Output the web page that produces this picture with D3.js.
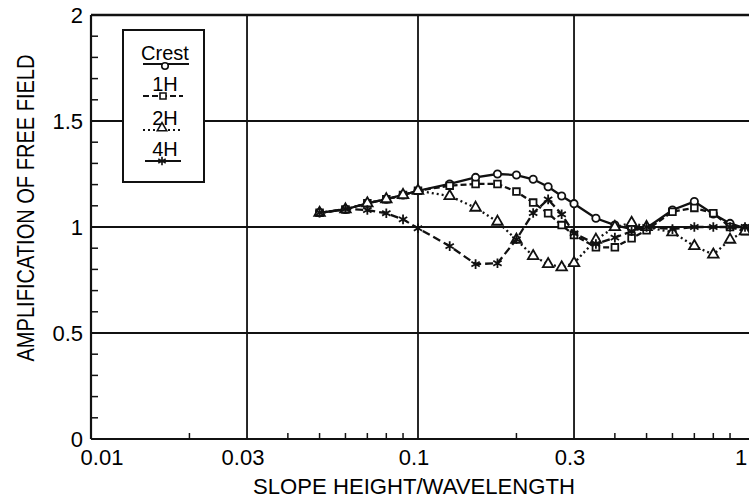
<!DOCTYPE html>
<html>
<head>
<meta charset="utf-8">
<script src="https://cdn.jsdelivr.net/npm/d3@7"></script>
<style>
  html, body { margin: 0; padding: 0; background: #fff; }
  svg { display: block; }
  text { font-family: "Liberation Sans", Arial, Helvetica, sans-serif; fill: #000; }
</style>
</head>
<body>
<svg id="chart" width="749" height="499"></svg>
<script>
// ---- data ----
const xValues = [0.05, 0.06, 0.07, 0.08, 0.09, 0.1, 0.125, 0.15, 0.175, 0.2, 0.225, 0.25, 0.275, 0.3, 0.35, 0.4, 0.45, 0.5, 0.6, 0.7, 0.8, 0.9, 1.0];
const crest = [1.067, 1.083, 1.112, 1.131, 1.151, 1.171, 1.203, 1.234, 1.25, 1.245, 1.225, 1.19, 1.146, 1.11, 1.041, 1.009, 0.99, 0.995, 1.08, 1.12, 1.061, 1.017, 0.994];
const h1 = [1.067, 1.083, 1.112, 1.131, 1.151, 1.171, 1.195, 1.203, 1.203, 1.167, 1.115, 1.065, 1.009, 0.962, 0.904, 0.904, 0.947, 0.985, 1.072, 1.09, 1.065, 1.0, 0.98];
const h2 = [1.067, 1.083, 1.112, 1.131, 1.151, 1.171, 1.146, 1.091, 1.025, 0.94, 0.863, 0.825, 0.81, 0.83, 0.94, 1.0, 1.02, 1.0, 0.975, 0.91, 0.87, 0.94, 0.98];
const h4 = [1.067, 1.085, 1.08, 1.065, 1.036, 0.994, 0.91, 0.825, 0.829, 0.942, 1.066, 1.13, 1.06, 0.97, 0.92, 0.95, 0.98, 1.0, 0.99, 1.0, 1.0, 1.0, 1.0];
const seriesNames = ["Crest", "1H", "2H", "4H"];
const xTickLabels = [0.01, 0.03, 0.1, 0.3, 1];
const xMinorTicks = [0.02, 0.04, 0.05, 0.06, 0.07, 0.08, 0.09, 0.2, 0.4, 0.5, 0.6, 0.7, 0.8, 0.9];
const yTickLabels = [0, 0.5, 1, 1.5, 2];
const yMinorTicks = [0.1, 0.2, 0.3, 0.4, 0.6, 0.7, 0.8, 0.9, 1.1, 1.2, 1.3, 1.4, 1.6, 1.7, 1.8, 1.9];

// ---- layout ----
const svg = d3.select("#chart");
const pLeft = 91, pRight = 745, pTop = 15, pBottom = 439;
const x = d3.scaleLog().domain([0.01, 1]).range([pLeft, pRight]);
const y = d3.scaleLinear().domain([0, 2]).range([pBottom, pTop]);
const plotRight = 760;
const ink = "#111";

// grid lines
const g = svg.append("g");
g.selectAll("line.vg").data([0.03, 0.1, 0.3]).enter().append("line")
  .attr("x1", d => x(d)).attr("x2", d => x(d)).attr("y1", pTop).attr("y2", pBottom)
  .attr("stroke", ink).attr("stroke-width", 1.8);
g.selectAll("line.hg").data([0.5, 1, 1.5]).enter().append("line")
  .attr("x1", pLeft).attr("x2", plotRight).attr("y1", d => y(d)).attr("y2", d => y(d))
  .attr("stroke", ink).attr("stroke-width", 1.8);

// minor ticks
g.selectAll("line.xm").data(xMinorTicks).enter().append("line")
  .attr("x1", d => x(d)).attr("x2", d => x(d)).attr("y1", pBottom).attr("y2", pBottom - 6)
  .attr("stroke", ink).attr("stroke-width", 1.5);
g.selectAll("line.ym").data(yMinorTicks).enter().append("line")
  .attr("x1", pLeft).attr("x2", pLeft + 7).attr("y1", d => y(d)).attr("y2", d => y(d))
  .attr("stroke", ink).attr("stroke-width", 1.5);

// frame: left, bottom, top
g.append("line").attr("x1", pLeft).attr("x2", pLeft).attr("y1", pTop).attr("y2", pBottom).attr("stroke", ink).attr("stroke-width", 2.2);
g.append("line").attr("x1", pLeft).attr("x2", plotRight).attr("y1", pBottom).attr("y2", pBottom).attr("stroke", ink).attr("stroke-width", 2.2);
g.append("line").attr("x1", pLeft).attr("x2", plotRight).attr("y1", pTop).attr("y2", pTop).attr("stroke", ink).attr("stroke-width", 2.4);

// tick labels
svg.selectAll("text.xl").data(xTickLabels).enter().append("text")
  .attr("x", (d, i) => x(d) + (i === 0 ? 11 : -4)).attr("y", 465)
  .attr("text-anchor", "middle").attr("font-size", 22)
  .text(d => d);
svg.selectAll("text.yl").data(yTickLabels).enter().append("text")
  .attr("x", 83).attr("y", d => y(d) + 8)
  .attr("text-anchor", "end").attr("font-size", 22)
  .text(d => d);

// axis titles
svg.append("text").attr("x", 414).attr("y", 494).attr("text-anchor", "middle")
  .attr("font-size", 22).attr("textLength", 322).attr("lengthAdjust", "spacingAndGlyphs")
  .text("SLOPE HEIGHT/WAVELENGTH");
svg.append("text").attr("transform", "translate(34,208) rotate(-90)").attr("text-anchor", "middle")
  .attr("font-size", 23).attr("textLength", 307).attr("lengthAdjust", "spacingAndGlyphs")
  .text("AMPLIFICATION OF FREE FIELD");

// series
const series = [
  { name: seriesNames[0], vals: crest, dash: null, sym: d3.symbolCircle, size: 42 },
  { name: seriesNames[1], vals: h1, dash: "6,3", sym: d3.symbolSquare, size: 45 },
  { name: seriesNames[2], vals: h2, dash: "2,3", sym: d3.symbolTriangle, size: 48 },
  { name: seriesNames[3], vals: h4, dash: "8,4", sym: d3.symbolAsterisk, size: 65 }
];
const line = d3.line().x(d => x(d[0])).y(d => y(d[1]));
series.forEach(s => {
  const pts = xValues.map((xv, i) => [xv, s.vals[i]]);
  svg.append("path").datum(pts).attr("d", line)
    .attr("fill", "none").attr("stroke", ink).attr("stroke-width", 2.3)
    .attr("stroke-dasharray", s.dash);
  svg.selectAll(null).data(pts).enter().append("path")
    .attr("transform", d => `translate(${x(d[0])},${y(d[1])})`)
    .attr("d", d3.symbol(s.sym, s.size))
    .attr("fill", s.sym === d3.symbolAsterisk ? "none" : "#fff")
    .attr("stroke", ink).attr("stroke-width", 1.8);
});

// legend
const lg = svg.append("g");
lg.append("rect").attr("x", 123).attr("y", 30).attr("width", 81).attr("height", 152)
  .attr("fill", "#fff").attr("stroke", ink).attr("stroke-width", 2);
const legendRows = [
  { base: 60, ly: 64, x1: 143, x2: 189, mx: 165, my: 66 },
  { base: 91, ly: 96, x1: 143, x2: 183, mx: 163, my: 96 },
  { base: 125, ly: 130, x1: 143, x2: 183, mx: 162, my: 128 },
  { base: 156, ly: 161, x1: 145, x2: 181, mx: 162, my: 161 }
];
series.forEach((s, i) => {
  const r = legendRows[i];
  lg.append("text").attr("x", 165).attr("y", r.base).attr("text-anchor", "middle")
    .attr("font-size", 20).text(s.name);
  lg.append("line").attr("x1", r.x1).attr("x2", r.x2).attr("y1", r.ly).attr("y2", r.ly)
    .attr("stroke", ink).attr("stroke-width", 2)
    .attr("stroke-dasharray", i === 3 ? null : s.dash);
  lg.append("path").attr("transform", `translate(${r.mx},${r.my})`)
    .attr("d", d3.symbol(s.sym, s.size * 0.8))
    .attr("fill", s.sym === d3.symbolAsterisk ? "none" : "#fff")
    .attr("stroke", ink).attr("stroke-width", 1.6);
});
</script>
</body>
</html>
